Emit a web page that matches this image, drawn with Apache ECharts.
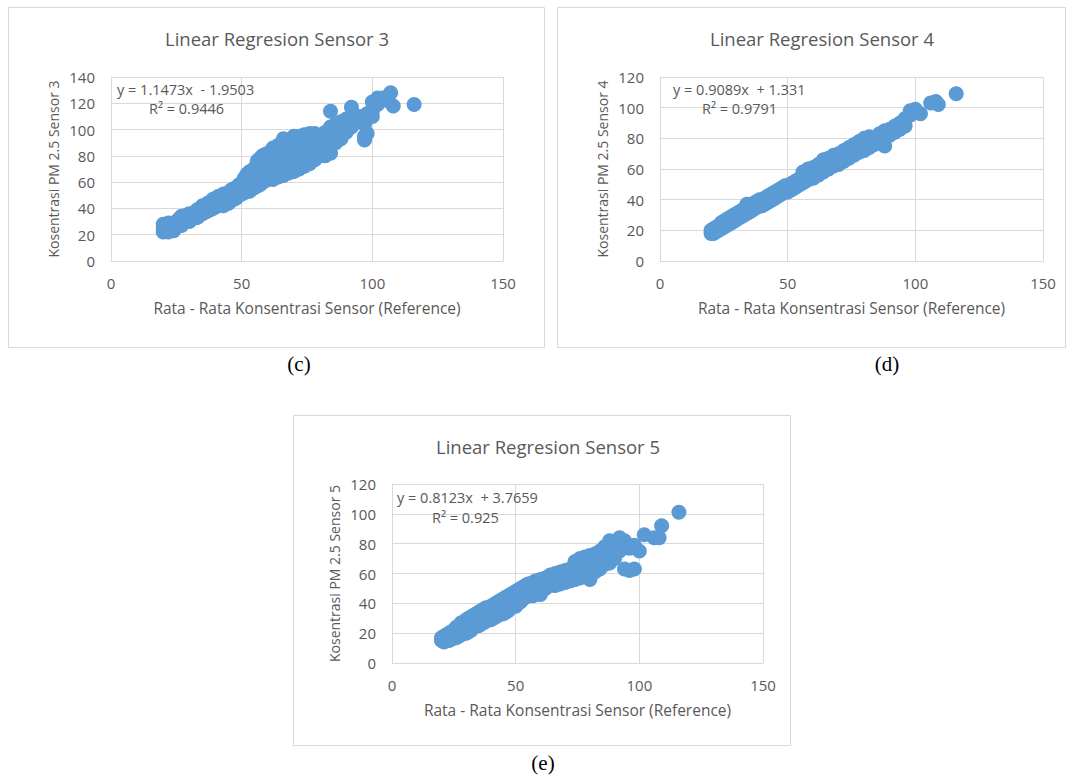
<!DOCTYPE html>
<html><head><meta charset="utf-8">
<script src="https://cdn.jsdelivr.net/npm/echarts@6/dist/echarts.min.js"></script>
<style>html,body{margin:0;padding:0;background:#fff}#c{width:1073px;height:780px}</style>
</head><body><div id="c"></div>
<script>
const chartTitles = ['Linear Regresion Sensor 3', 'Linear Regresion Sensor 4', 'Linear Regresion Sensor 5'];
const yAxisNames = ['Kosentrasi PM 2.5 Sensor 3', 'Kosentrasi PM 2.5 Sensor 4', 'Kosentrasi PM 2.5 Sensor 5'];
const xAxisName = 'Rata - Rata Konsentrasi Sensor (Reference)';
const equations = ['y = 1.1473x  - 1.9503', 'y = 0.9089x  + 1.331', 'y = 0.8123x  + 3.7659'];
const rSquared = ['R\u00B2 = 0.9446', 'R\u00B2 = 0.9791', 'R\u00B2 = 0.925'];
const panelLabels = ['(c)', '(d)', '(e)'];
const xTicks = [0, 50, 100, 150];
const yMaxes = [140, 120, 120];

const sensor3Points = [
[20,22],[20,25],[20,28],[21,23],[21,27],[22,22],[22,26],[22,29],[23,24],[23,28],[24,23],[24,27],
[25,26],[25,30],[26,28],[26,32],[27,27],[27,31],[27,34],[28,30],[28,34],[29,31],[29,35],
[30,30],[30,33],[30,36],[31,32],[31,35],[32,33],[32,37],[33,33],[33,36],[33,39],[34,35],[34,39],
[35,36],[35,40],[35,42],[36,37],[36,41],[37,38],[37,42],[37,44],[38,39],[38,43],[39,40],[39,44],[39,47],
[40,41],[40,45],[41,42],[41,46],[41,49],[42,43],[42,47],[43,42],[43,45],[43,49],[43,51],[44,44],[44,48],
[45,44],[45,48],[45,52],[46,46],[46,50],[46,54],[47,47],[47,51],[47,55],[48,48],[48,52],[48,56],
[49,50],[49,54],[49,58],[50,51],[50,55],[50,59],[51,52],[51,56],[51,60],[51,63],[52,54],[52,58],[52,62],[52,66],
[53,53],[53,57],[53,61],[53,65],[53,68],[54,55],[54,59],[54,63],[54,67],[55,56],[55,60],[55,64],[55,68],[55,71],
[56,57],[56,61],[56,65],[56,69],[56,73],[56,76],[57,58],[57,62],[57,66],[57,70],[57,74],[57,78],
[58,60],[58,64],[58,68],[58,72],[58,76],[58,80],[59,61],[59,65],[59,69],[59,73],[59,77],[59,81],
[60,62],[60,66],[60,70],[60,74],[60,78],[60,82],[62,62],[62,67],[62,72],[62,77],[62,82],[62,86],
[64,64],[64,69],[64,74],[64,79],[64,84],[64,88],[66,65],[66,70],[66,75],[66,80],[66,85],[66,90],[66,93],
[68,67],[68,72],[68,77],[68,82],[68,87],[68,92],[70,68],[70,73],[70,78],[70,83],[70,88],[70,93],[70,95],
[72,70],[72,75],[72,80],[72,85],[72,90],[72,95],[74,72],[74,77],[74,82],[74,87],[74,92],[74,96],
[76,74],[76,79],[76,84],[76,89],[76,94],[76,97],[78,77],[78,82],[78,87],[78,92],[78,97],
[80,80],[80,85],[80,90],[80,95],[82,80],[82,85],[82,90],[82,95],[82,98],
[84,82],[84,87],[84,92],[84,97],[84,102],[84,114],[86,90],[86,95],[86,100],[86,104],
[88,93],[88,98],[88,103],[88,106],[90,98],[90,103],[90,108],[92,102],[92,106],[92,117],
[95,106],[95,110],[97,92],[97,95],[97,104],[98,97],[98,112],[100,110],[100,114],[100,121],
[102,119],[102,124],[104,124],[106,122],[107,128],[108,118],[116,119]
];

const sensor4Points = [
[20,18],[20,20],[21,18],[21,21],[22,19],[22,22],[23,20],[23,23],[24,21],[24,25],[25,22],[25,26],
[26,23],[26,27],[27,24],[27,28],[28,25],[28,29],[29,26],[29,30],[30,27],[30,31],[31,28],[31,32],
[32,29],[32,33],[33,30],[33,34],[34,31],[34,35],[34,37],[35,32],[35,36],[36,33],[36,37],[37,34],[37,38],
[38,35],[38,39],[39,36],[39,40],[40,36],[40,40],[41,37],[41,41],[42,38],[42,42],[43,39],[43,43],
[44,40],[44,44],[45,41],[45,45],[46,42],[46,46],[47,43],[47,47],[48,44],[48,48],[49,45],[49,49],
[50,45],[50,49],[51,46],[51,50],[52,47],[52,51],[53,48],[53,52],[54,49],[54,53],[55,50],[55,54],
[56,51],[56,55],[56,58],[57,52],[57,56],[58,53],[58,57],[58,60],[59,54],[59,58],[60,54],[60,58],[60,61],
[62,56],[62,60],[62,63],[64,58],[64,62],[64,66],[66,60],[66,64],[66,67],[68,62],[68,66],[68,69],
[70,63],[70,67],[70,70],[72,65],[72,69],[72,72],[74,67],[74,71],[74,74],[76,69],[76,73],[76,76],
[78,71],[78,75],[78,78],[80,72],[80,76],[80,80],[82,74],[82,78],[82,81],[84,76],[84,80],
[86,78],[86,83],[88,75],[88,80],[88,85],[90,82],[90,86],[92,84],[92,88],[94,86],[94,90],
[96,88],[96,93],[98,95],[98,98],[100,97],[100,99],[102,96],[106,103],[108,104],[109,102],[116,109]
];

const sensor5Points = [
[20,15],[20,17],[21,14],[21,18],[22,15],[22,19],[23,15],[23,20],[24,16],[24,21],[25,17],[25,22],
[26,17],[26,22],[26,24],[27,18],[27,23],[28,19],[28,24],[28,27],[29,20],[29,25],[30,20],[30,25],[30,29],
[31,21],[31,26],[31,30],[32,22],[32,27],[32,31],[33,24],[33,28],[33,32],[34,25],[34,29],[34,33],
[35,25],[35,30],[35,34],[36,26],[36,31],[36,35],[37,27],[37,32],[37,36],[38,28],[38,33],[38,37],
[39,29],[39,34],[39,37],[40,29],[40,34],[40,38],[41,30],[41,35],[41,39],[42,31],[42,36],[42,40],
[43,32],[43,37],[43,41],[44,33],[44,38],[44,42],[45,33],[45,38],[45,43],[46,34],[46,39],[46,44],
[47,35],[47,40],[47,45],[48,37],[48,42],[48,46],[49,38],[49,43],[49,47],[50,38],[50,43],[50,48],
[51,40],[51,45],[51,49],[52,41],[52,46],[52,50],[53,43],[53,47],[53,51],[54,44],[54,48],[54,52],
[55,45],[55,49],[55,53],[56,46],[56,50],[56,53],[57,45],[57,49],[57,54],[58,46],[58,50],[58,55],
[59,47],[59,51],[59,55],[60,46],[60,51],[60,56],[62,50],[62,54],[62,57],[64,52],[64,56],[64,59],
[66,52],[66,56],[66,60],[68,53],[68,57],[68,61],[70,54],[70,58],[70,62],[72,55],[72,59],[72,63],
[74,56],[74,60],[74,64],[74,68],[76,57],[76,61],[76,65],[76,70],[78,59],[78,63],[78,67],[78,71],
[80,56],[80,60],[80,64],[80,68],[80,72],[82,61],[82,65],[82,69],[82,73],[84,63],[84,67],[84,71],[84,75],
[86,66],[86,70],[86,74],[86,78],[88,67],[88,72],[88,77],[88,82],[90,70],[90,75],[90,80],
[92,75],[92,80],[92,84],[94,63],[94,78],[94,82],[96,62],[96,77],[98,63],[98,79],[100,75],
[102,86],[106,84],[108,84],[109,92],[116,101]
];

const seriesData = [sensor3Points, sensor4Points, sensor5Points];

const layout = [
  {box: [8, 7, 536, 340], grid: {left: 111, top: 77, width: 392, height: 184}, title: [277, 38], eq: [117, 89], r2: [149, 108], label: [299, 364]},
  {box: [557, 7, 508, 340], grid: {left: 660, top: 77, width: 383, height: 184}, title: [822, 38], eq: [673, 89], r2: [702, 108], label: [887, 364]},
  {box: [293, 415, 497, 330], grid: {left: 392, top: 484, width: 371, height: 179}, title: [548, 446], eq: [397, 497], r2: [432, 517], label: [543, 763]}
];

const FONT = '"Open Sans"';
const GRAY = '#595959';
const LINE = '#D9D9D9';

const grids = [], xAxes = [], yAxes = [], series = [], graphics = [];
layout.forEach((L, i) => {
  graphics.push({type: 'rect', shape: {x: L.box[0] + 0.5, y: L.box[1] + 0.5, width: L.box[2], height: L.box[3]},
    style: {fill: '#fff', stroke: LINE, lineWidth: 1}, z: -10});
  graphics.push({type: 'text', x: L.title[0], y: L.title[1], style: {text: chartTitles[i], font: '18.5px ' + FONT, fill: GRAY, textAlign: 'center', textVerticalAlign: 'middle'}});
  graphics.push({type: 'text', x: L.eq[0], y: L.eq[1], z: 10, style: {text: equations[i], font: '14.5px ' + FONT, fill: GRAY, textAlign: 'left', textVerticalAlign: 'middle'}});
  graphics.push({type: 'text', x: L.r2[0], y: L.r2[1], z: 10, style: {text: rSquared[i], font: '14.5px ' + FONT, fill: GRAY, textAlign: 'left', textVerticalAlign: 'middle'}});
  graphics.push({type: 'text', x: L.label[0], y: L.label[1], style: {text: panelLabels[i], font: '21px "Liberation Serif"', fill: '#000', textAlign: 'center', textVerticalAlign: 'middle'}});
  grids.push(Object.assign({containLabel: false}, L.grid));
  xAxes.push({
    type: 'value', gridIndex: i, min: xTicks[0], max: xTicks[xTicks.length - 1], interval: xTicks[1] - xTicks[0],
    name: xAxisName, nameLocation: 'middle', nameGap: 39,
    nameTextStyle: {color: GRAY, fontSize: 15.5, fontFamily: FONT},
    axisLine: {show: true, lineStyle: {color: LINE}}, axisTick: {show: false},
    axisLabel: {color: GRAY, fontSize: 15, fontFamily: FONT, margin: 14},
    splitLine: {show: true, lineStyle: {color: LINE}}
  });
  yAxes.push({
    type: 'value', gridIndex: i, min: 0, max: yMaxes[i], interval: 20,
    name: yAxisNames[i], nameLocation: 'middle', nameGap: 51,
    nameTextStyle: {color: GRAY, fontSize: 14, fontFamily: FONT},
    axisLine: {show: true, lineStyle: {color: LINE}}, axisTick: {show: false},
    axisLabel: {color: GRAY, fontSize: 15, fontFamily: FONT, margin: 16},
    splitLine: {show: true, lineStyle: {color: LINE}}
  });
  series.push({
    type: 'scatter', xAxisIndex: i, yAxisIndex: i, data: seriesData[i],
    symbolSize: 15, itemStyle: {color: '#5B9BD5', opacity: 1}, silent: true, z: 2
  });
});

const chart = echarts.init(document.getElementById('c'), null, {renderer: 'svg'});
chart.setOption({
  animation: false,
  backgroundColor: '#fff',
  grid: grids, xAxis: xAxes, yAxis: yAxes, series: series,
  graphic: graphics
});
</script></body></html>
